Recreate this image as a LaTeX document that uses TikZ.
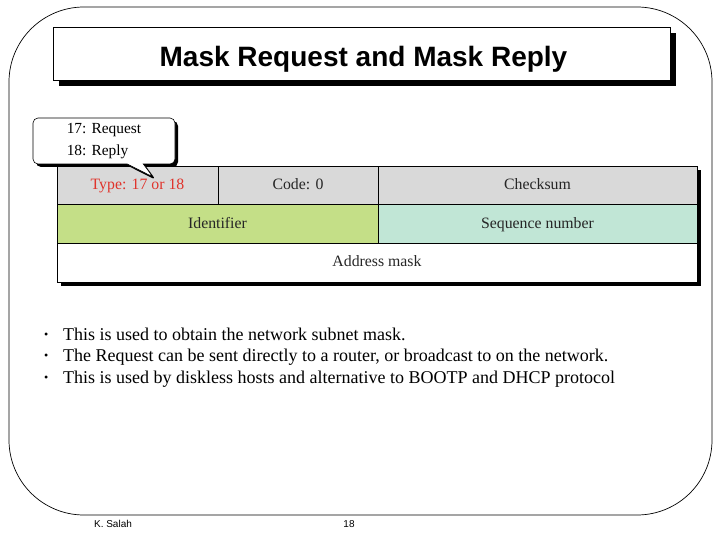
\documentclass[tikz,border=0pt]{standalone}
\usepackage{fontspec}
\setmainfont{Liberation Serif}
\newfontfamily\arialfont{Liberation Sans}
\usetikzlibrary{positioning,shapes.callouts,shadows,fit,backgrounds}
\definecolor{hdrgray}{HTML}{D9D9D9}
\definecolor{idgreen}{HTML}{C4DF87}
\definecolor{seqteal}{HTML}{C1E6D6}
\definecolor{typered}{HTML}{E0332B}

\begin{document}
\begin{tikzpicture}[
  x=1pt, y=-1pt,
  frame/.style={draw, line width=0.7pt, rounded corners=75pt},
  hardshadow/.style={drop shadow={shadow xshift=#1, shadow yshift=-#1, fill=black, opacity=1}},
  titlebox/.style={draw, fill=white, line width=0.6pt, minimum width=617pt, minimum height=53pt, hardshadow=6pt},
  titletext/.style={font=\arialfont\bfseries\fontsize{28}{30}\selectfont, anchor=base},
  bubble/.style={rectangle callout, draw, fill=white, line width=0.6pt, rounded corners=5pt,
    minimum width=142pt, minimum height=46pt, align=left, callout pointer width=16pt,
    font=\fontsize{15.4}{22}\selectfont, hardshadow=3pt},
  cell/.style={draw, line width=0.6pt, outer sep=0pt, inner sep=0pt, minimum height=38.7pt,
    text height=9pt, text depth=1pt, text=black!85, font=\fontsize{15.8}{17}\selectfont},
  bullets/.style={anchor=north west, inner sep=0pt, align=left, font=\fontsize{18}{21.5}\selectfont},
  footer/.style={font=\arialfont\fontsize{10}{12}\selectfont}
]
\useasboundingbox (0,0) rectangle (720,540);

% slide frame and title
\draw[frame] (9,7) rectangle (712,515);
\node[titlebox] (titlebox) at (361.5,53.5) {};
\node[titletext] (title) at (363.5,67) {Mask Request and Mask Reply};

% message format
\node[cell, fill=hdrgray, minimum width=161pt, anchor=north west] (type) at (57,166) {\textcolor{typered}{Type: 17 or 18}};
\node[cell, fill=hdrgray, minimum width=160pt, right=0pt of type] (code) {Code: 0};
\node[cell, fill=hdrgray, minimum width=319pt, right=0pt of code] (checksum) {Checksum};
\node[cell, fill=idgreen, minimum width=321pt, below right=0pt and 0pt of type.south west] (ident) {Identifier};
\node[cell, fill=seqteal, minimum width=319pt, right=0pt of ident] (seqnum) {Sequence number};
\node[cell, fill=white, minimum width=640pt, below right=0pt and 0pt of ident.south west] (addrmask) {Address mask};
\begin{scope}[on background layer]
  \node[fit=(type)(checksum)(addrmask), inner sep=0pt, fill=white, hardshadow=4pt] (table) {};
\end{scope}

% callout
\node[bubble, callout absolute pointer={(153,177)}] (bubble) at (104,141) {17: Request\\18: Reply};

% notes
\node[bullets] (notes) at (44,327.5) {%
\makebox[19pt][l]{\raisebox{2pt}{\fontsize{12}{12}\selectfont\textbullet}}This is used to obtain the network subnet mask.\\
\makebox[19pt][l]{\raisebox{2pt}{\fontsize{12}{12}\selectfont\textbullet}}The Request can be sent directly to a router, or broadcast to on the network.\\
\makebox[19pt][l]{\raisebox{2pt}{\fontsize{12}{12}\selectfont\textbullet}}This is used by diskless hosts and alternative to BOOTP and DHCP protocol};

% footer
\node[footer] (author) at (113,524) {K. Salah};
\node[footer] (pageno) at (349,524) {18};
\end{tikzpicture}
\end{document}
